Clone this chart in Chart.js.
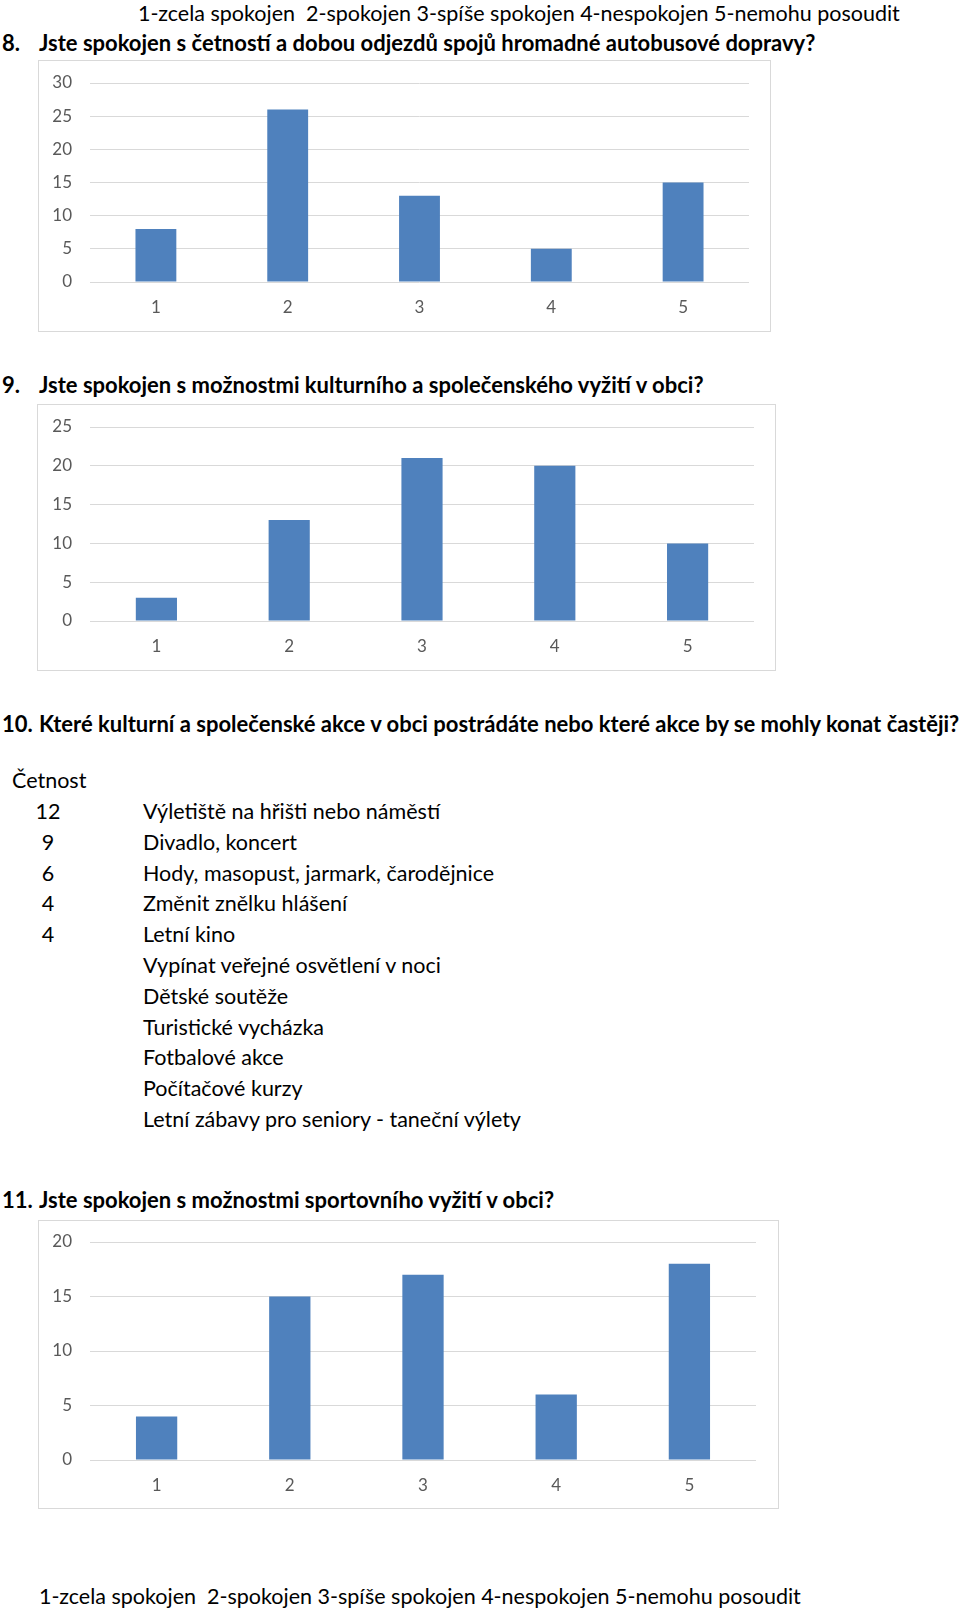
<!DOCTYPE html>
<html>
<head>
<meta charset="utf-8">
<script src="https://cdn.jsdelivr.net/npm/chart.js@4.4.1/dist/chart.umd.min.js"></script>
<style>
  body { margin: 0; background: #fff; width: 960px; height: 1610px; position: relative; overflow: hidden;
         font-family: Lato, 'Open Sans', sans-serif; color: #000; }
  .t { position: absolute; white-space: nowrap; line-height: 24px; height: 24px; }
  .b { font-weight: bold; font-size: 22px; }
  .n { font-size: 21.5px; }
  .box { position: absolute; border: 1px solid #d9d9d9; box-sizing: border-box; }
  .box canvas { position: absolute; left: 0; top: 0; }
</style>
</head>
<body>
<div class="t n" style="left:138px; top:1px;">1-zcela spokojen&nbsp; 2-spokojen 3-spíše spokojen 4-nespokojen 5-nemohu posoudit</div>

<div class="t b" style="left:2px; top:31px;">8.</div>
<div class="t b" style="left:39px; top:31px;">Jste spokojen s četností a dobou odjezdů spojů hromadné autobusové dopravy?</div>
<div class="box" style="left:38px; top:60px; width:733px; height:272px;"><canvas id="chart-q8"></canvas></div>

<div class="t b" style="left:2px; top:373px;">9.</div>
<div class="t b" style="left:39px; top:373px;">Jste spokojen s možnostmi kulturního a společenského vyžití v obci?</div>
<div class="box" style="left:37px; top:404px; width:739px; height:267px;"><canvas id="chart-q9"></canvas></div>

<div class="t b" style="left:2px; top:712px;">10.</div>
<div class="t b" style="left:39px; top:712px;">Které kulturní a společenské akce v obci postrádáte nebo které akce by se mohly konat častěji?</div>
<div class="t n" style="left:12px; top:768px;">Četnost</div>
<div id="event-list"></div>

<div class="t b" style="left:2px; top:1188px;">11.</div>
<div class="t b" style="left:39px; top:1188px;">Jste spokojen s možnostmi sportovního vyžití v obci?</div>
<div class="box" style="left:38px; top:1220px; width:741px; height:289px;"><canvas id="chart-q11"></canvas></div>

<div class="t n" style="left:39px; top:1584px;">1-zcela spokojen&nbsp; 2-spokojen 3-spíše spokojen 4-nespokojen 5-nemohu posoudit</div>

<script>
// Survey answers, counts per rating 1..5
const categories = ['1', '2', '3', '4', '5'];
const q8Values = [8, 26, 13, 5, 15];
const q9Values = [3, 13, 21, 20, 10];
const q11Values = [4, 15, 17, 6, 18];
const q8Max = 30;
const q9Max = 25;
const q11Max = 20;

// Question 10 answers
const eventCounts = [12, 9, 6, 4, 4];
const eventNames = [
  'Výletiště na hřišti nebo náměstí',
  'Divadlo, koncert',
  'Hody, masopust, jarmark, čarodějnice',
  'Změnit znělku hlášení',
  'Letní kino',
  'Vypínat veřejné osvětlení v noci',
  'Dětské soutěže',
  'Turistické vycházka',
  'Fotbalové akce',
  'Počítačové kurzy',
  'Letní zábavy pro seniory - taneční výlety'
];

// Build the frequency list
const list = document.getElementById('event-list');
list.innerHTML = eventNames.map((name, i) => {
  const top = 799 + i * 30.8;
  const count = eventCounts[i] !== undefined ? eventCounts[i] : '';
  return `<div class="t n" style="left:28px; width:40px; text-align:center; top:${top}px;">${count}</div>
          <div class="t n" style="left:143px; top:${top}px;">${name}</div>`;
}).join('');

const tickFont = { family: "Lato, sans-serif", size: 17 };

// drop the automatic label overhang so the plot area sits where the padding says
function noPad(s) {
  s.paddingTop = 0; s.paddingBottom = 0; s.paddingLeft = 0; s.paddingRight = 0;
}

function makeChart(id, values, max, w, h, axisW, rightPad, topPad, bottomH) {
  const canvas = document.getElementById(id);
  canvas.width = w - 2;
  canvas.height = h - 2;
  canvas.style.width = (w - 2) + 'px';
  canvas.style.height = (h - 2) + 'px';
  return new Chart(canvas.getContext('2d'), {
    type: 'bar',
    data: {
      labels: categories,
      datasets: [{
        data: values,
        backgroundColor: '#4f81bd',
        borderWidth: 0,
        categoryPercentage: 1,
        barPercentage: 0.31
      }]
    },
    options: {
      responsive: false,
      animation: false,
      layout: { padding: { top: topPad, right: rightPad, left: 0, bottom: 0 } },
      plugins: { legend: { display: false }, tooltip: { enabled: false } },
      scales: {
        x: {
          grid: { display: false, drawTicks: false },
          border: { display: false },
          ticks: { color: '#595959', font: tickFont, padding: 15, maxRotation: 0 },
          afterFit: (s) => { s.height = bottomH; noPad(s); }
        },
        y: {
          min: 0,
          max: max,
          grid: { color: '#d9d9d9', lineWidth: 1, drawTicks: false },
          border: { display: false },
          ticks: { stepSize: 5, color: '#595959', font: tickFont, padding: 18 },
          afterFit: (s) => { s.width = axisW; noPad(s); }
        }
      }
    }
  });
}

makeChart('chart-q8', q8Values, q8Max, 733, 272, 51, 21, 22, 49);
makeChart('chart-q9', q9Values, q9Max, 739, 267, 52, 21, 22, 49);
makeChart('chart-q11', q11Values, q11Max, 741, 289, 51, 22, 21, 48);
</script>
</body>
</html>
